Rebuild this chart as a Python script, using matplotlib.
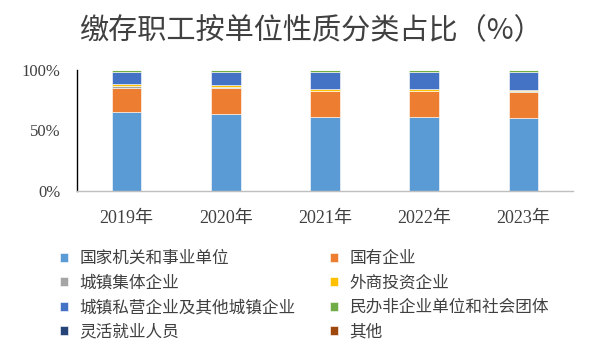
import matplotlib
matplotlib.use("Agg")
from matplotlib import pyplot as plt
import numpy as np

plt.rcParams['font.family'] = ['Noto Sans CJK SC', 'DejaVu Sans']

years = ['2019年', '2020年', '2021年', '2022年', '2023年']
yticks = [0, 50, 100]
ytick_labels = ['0%', '50%', '100%']

# share of contributing workers by employer type, in %
names = ['国家机关和事业单位', '国有企业', '城镇集体企业', '外商投资企业',
         '城镇私营企业及其他城镇企业', '民办非企业单位和社会团体',
         '灵活就业人员', '其他']
gov = [64.9, 63.5, 61.0, 61.0, 60.2]
soe = [20.6, 22.0, 21.6, 21.5, 21.3]
collective = [1.6, 0.6, 0.4, 0.4, 0.8]
foreign = [1.6, 1.4, 1.5, 1.5, 1.2]
private = [9.4, 10.8, 13.8, 13.9, 14.9]
nonprofit = [1.5, 1.5, 1.5, 1.5, 1.4]
flexible = [0.2, 0.1, 0.1, 0.1, 0.1]
other = [0.2, 0.1, 0.1, 0.1, 0.1]
series = [gov, soe, collective, foreign, private, nonprofit, flexible, other]

colors = ['#5B9BD5', '#ED7D31', '#A5A5A5', '#FFC000',
          '#4472C4', '#70AD47', '#264478', '#9E480E']

fig = plt.figure(figsize=(6.02, 3.51), dpi=100)
ax = fig.add_axes([77 / 602, 1 - 191 / 351, 496 / 602, 121 / 351])

x = np.arange(len(years))
bottom = np.zeros(len(years))
bars = []
for vals, name, c in zip(series, names, colors):
    b = ax.bar(x, vals, 0.30, bottom=bottom, color=c, label=name,
               edgecolor='white', linewidth=0.4)
    bars.append(b)
    bottom += np.array(vals)

ax.set_xlim(-0.5, len(years) - 0.5)
ax.set_ylim(0, 100)
ax.set_yticks(yticks)
ax.set_yticklabels(ytick_labels, family=['Liberation Serif', 'Noto Sans CJK SC'],
                   fontsize=12, color='#404040')
ax.set_xticks(x)
ax.set_xticklabels(years, family=['Liberation Serif', 'Noto Sans CJK SC'],
                   fontsize=13, color='#404040')
ax.tick_params(axis='y', length=0, pad=12)
ax.tick_params(axis='x', length=0, pad=14)

for s in ['top', 'right']:
    ax.spines[s].set_visible(False)
ax.spines['left'].set_color('black')
ax.spines['left'].set_linewidth(1.0)
ax.spines['bottom'].set_color('#BFBFBF')
ax.spines['bottom'].set_linewidth(1.0)

fig.text(0.516, 0.91, '缴存职工按单位性质分类占比（%）', ha='center', va='center',
         fontsize=21, color='#404040')

# row-major legend order like the original
order = [0, 2, 4, 6, 1, 3, 5, 7]
fig.legend([bars[i] for i in order], [names[i] for i in order],
           ncol=2, loc='upper left', bbox_to_anchor=(60 / 602, 1 - 250 / 351),
           frameon=False, fontsize=12, handlelength=0.45, handleheight=0.45,
           handletextpad=0.7, columnspacing=2.1, labelspacing=0.45,
           labelcolor='#404040', borderaxespad=0, borderpad=0)

fig.savefig('out.png', dpi=100)
